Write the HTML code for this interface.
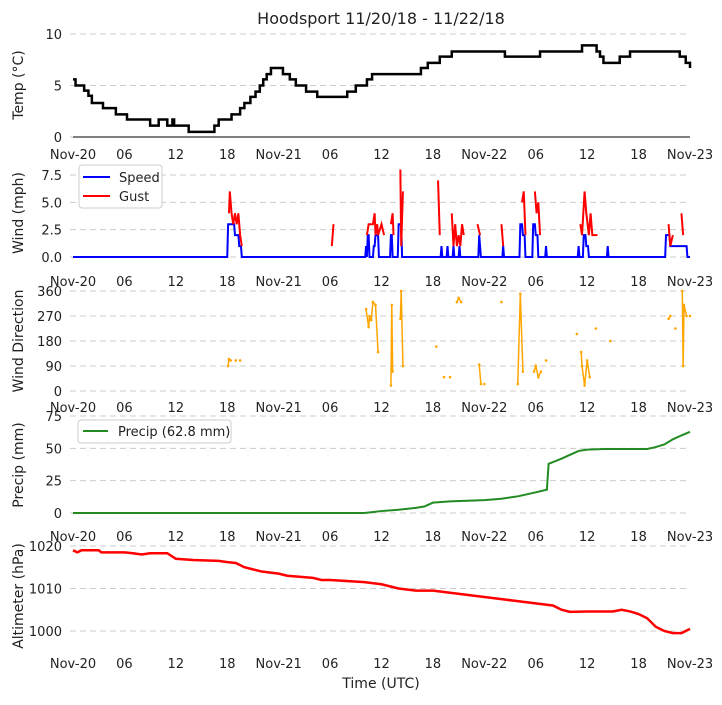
<!DOCTYPE html>
<html><head><meta charset="utf-8"><style>
body{margin:0;background:#fff;font-family:"Liberation Sans",sans-serif}
svg text{font-family:"DejaVu Sans","Liberation Sans",sans-serif;fill:#222}
</style></head><body>
<svg id="c" width="722" height="700"></svg>
<script>
const tickLabels=["Nov-20","06","12","18","Nov-21","06","12","18","Nov-22","06","12","18","Nov-23"];
const tempHours=[0,0.3,1.3,1.8,2.2,3.5,5,6.3,9,10,11,11.6,11.8,13.5,16.5,17,18.5,19.5,20,20.7,21.3,21.8,22.2,22.6,23.1,24.5,25.3,26,27.2,28.5,32,33,34.3,34.9,40.6,41.4,42.8,44.2,50.4,54.5,59.4,61.1,61.5,61.9,63.8,65,70.8,71.5,72];
const tempValues=[5.6,5.0,4.5,4.0,3.3,2.8,2.2,1.7,1.1,1.7,1.1,1.7,1.1,0.5,1.1,1.7,2.2,2.8,3.3,3.9,4.4,5.0,5.6,6.1,6.7,6.1,5.6,5.0,4.4,3.9,4.4,5.0,5.6,6.1,6.7,7.2,7.8,8.3,7.8,8.3,8.9,8.3,7.8,7.2,7.8,8.3,7.8,7.2,6.7];
const speedHours=[0,18,18.1,18.8,18.9,19.3,19.4,19.6,19.7,34.1,34.2,34.3,34.4,34.5,34.6,35,35.1,35.2,35.3,35.6,35.7,37.0,37.1,37.2,37.3,37.9,38.0,38.3,38.4,42.9,43.0,43.1,43.6,43.7,43.8,44.3,44.4,44.5,45.0,45.1,45.2,47.3,47.4,47.5,47.6,50.1,50.2,50.3,52.1,52.2,52.4,52.5,52.7,52.8,53.6,53.7,53.9,54.0,54.2,54.3,55.1,55.2,55.3,58.9,59.0,59.1,59.5,59.6,59.8,59.9,60.1,60.2,62.3,62.4,62.5,69.1,69.2,69.6,69.7,70.3,70.4,71.6,71.7,72];
const speedValues=[0,0,3,3,2,2,1,1,0,0,1,0,2,2,0,0,1,1,2,2,0,0,2,2,0,0,3,3,0,0,1,0,0,1,0,0,1,0,0,1,0,0,2,1,0,0,1,0,0,3,3,2,2,0,0,3,3,2,2,0,0,1,0,0,1,0,0,2,2,1,1,0,0,1,0,0,2,2,1,1,1,1,0,0];
const gustHours=[18.2,18.3,18.5,18.7,18.9,19.1,19.3,19.5,19.7,30.2,30.4,34.3,34.5,34.7,35,35.2,35.3,35.5,35.6,36,36.3,37.1,37.3,37.4,38.2,38.3,38.5,42.6,42.8,43.3,44.2,44.4,44.6,44.8,45,45.2,45.4,45.6,47.2,47.5,48.5,50,50.2,52.4,52.6,52.8,53.9,54.1,54.3,54.5,55,59.2,59.4,59.7,59.9,60.2,60.4,60.6,60.8,61.2,62.4,69.5,69.7,70,71,71.2,71.7];
const gustValues=[4,6,4,3,4,3,4,2,1,1,3,2,3,3,3,4,2,3,2,3,2,3,4,2,8,1,6,7,2,1,4,1,3,1,2,1,3,2,3,2,2,3,1,5,6,2,6,4,5,2,2,3,2,6,4,2,4,2,2,2,2,3,1,2,4,2,2];
const dirHours=[18.1,18.2,18.4,19,19.5,34.2,34.5,34.6,34.8,35,35.3,35.6,37.1,37.2,37.3,38.2,38.3,38.5,42.4,43.3,44,44.8,45,45.3,47.4,47.6,48,50,51.9,52.2,52.5,53.8,54,54.3,54.6,55.2,58.8,59.3,59.4,59.7,60,60.3,61,62.7,69.5,69.7,70.3,71.1,71.2,71.3,71.6,72];
const dirValues=[90,115,110,110,110,295,230,270,255,320,310,140,20,310,70,260,360,90,160,50,50,320,335,320,95,25,25,320,25,350,70,70,90,50,70,110,205,140,90,20,110,50,225,180,260,270,225,360,90,310,270,270];
const precipHours=[0,34,36,38,40,41,42,44,46,48,50,52,54,55.3,55.5,57,58,59,60,62,67,68,69,70,71,72];
const precipValues=[0,0,1.5,2.5,4,5,8,9,9.5,10,11,13,16,18,38,42,45,48,49,49.5,49.5,51,53,57,60,62.8];
const altHours=[0,0.5,1,3,3.3,6,7,8,9,11,12,14,17,18,19,20,21,22,24,25,28,29,30,34,36,38,40,42,44,46,48,50,52,54,56,57,58,60,63,64,65,66,67,68,69,70,71,72];
const altValues=[1019,1018.5,1019,1019,1018.5,1018.5,1018.3,1018,1018.3,1018.3,1017,1016.7,1016.5,1016.2,1016,1015,1014.5,1014,1013.5,1013,1012.5,1012,1012,1011.5,1011,1010,1009.5,1009.5,1009,1008.5,1008,1007.5,1007,1006.5,1006,1005,1004.5,1004.6,1004.6,1005,1004.6,1004,1003,1001,1000,999.5,999.5,1000.5];

const S=document.getElementById('c');const NS='http://www.w3.org/2000/svg';
function mk(t,a,p){const e=document.createElementNS(NS,t);for(const k in a)e.setAttribute(k,a[k]);(p||S).appendChild(e);return e;}
const X=h=>73+h*(617/72);
function lin(v0,y0,v1,y1){return v=>y0+(v-v0)*(y1-y0)/(v1-v0);}
const yT=lin(0,137,10,34),yW=lin(0,257,7.5,175),yD=lin(0,391,360,291),yP=lin(0,513,75,416),yA=lin(1000,631,1020,546);
function grid(vals,labels,yf,tickY,label,ly){
 vals.forEach((v,i)=>{const g=mk('line',{x1:70,x2:690,y1:yf(v),y2:yf(v),stroke:'#ccc','stroke-dasharray':'6,4'});
 
 
 const t=mk('text',{x:62,y:yf(v)+5,'text-anchor':'end','font-size':13});t.textContent=labels[i];
 
 });
 tickLabels.forEach((l,i)=>{const t=mk('text',{x:X(i*6),y:tickY,'text-anchor':'middle','font-size':13});t.textContent=l;
 
 });
 const t=mk('text',{x:0,y:0,'text-anchor':'middle','font-size':14,transform:`translate(23,${ly}) rotate(-90)`});t.textContent=label;
 
 
}
function step(hs,vs,yf){let d=`M${X(hs[0])},${yf(vs[0])}`;for(let i=1;i<hs.length;i++)d+=`H${X(hs[i])}V${yf(vs[i])}`;return d;}
function poly(hs,vs,yf){return hs.map((h,i)=>(i?'L':'M')+X(h)+','+yf(vs[i])).join('');}
function seg(hs,vs,yf,gap){let d='';for(let i=0;i<hs.length;i++){d+=(i&&hs[i]-hs[i-1]<=gap?'L':'M')+X(hs[i])+','+yf(vs[i]);}return d;}

const ti=mk('text',{x:381,y:24,'text-anchor':'middle','font-size':16});ti.textContent='Hoodsport 11/20/18 - 11/22/18';



grid([0,5,10],['0','5','10'],yT,159,'Temp (\u00B0C)',85);
let e=mk('line',{x1:73,x2:690,y1:137,y2:137,stroke:'#000','stroke-width':1});


e=mk('path',{d:step(tempHours,tempValues,yT),fill:'none',stroke:'#000','stroke-width':2.5});



grid([0,2.5,5,7.5],['0.0','2.5','5.0','7.5'],yW,286,'Wind (mph)',213);
e=mk('path',{d:poly(speedHours,speedValues,yW),fill:'none',stroke:'#0000ff','stroke-width':2});


e=mk('path',{d:seg(gustHours,gustValues,yW,0.45),fill:'none',stroke:'#ff0000','stroke-width':2});


let lg=mk('g',{});


mk('rect',{x:79,y:165,width:83,height:43,fill:'#fff',stroke:'#ccc',rx:3},lg);
mk('line',{x1:83,x2:110,y1:177,y2:177,stroke:'#0000ff','stroke-width':2},lg);
mk('line',{x1:83,x2:110,y1:196,y2:196,stroke:'#ff0000','stroke-width':2},lg);
let t=mk('text',{x:119,y:182,'font-size':13},lg);t.textContent='Speed';
t=mk('text',{x:119,y:201,'font-size':13},lg);t.textContent='Gust';

grid([0,90,180,270,360],['0','90','180','270','360'],yD,412,'Wind Direction',341);
e=mk('path',{d:seg(dirHours,dirValues,yD,0.35),fill:'none',stroke:'#ffa500','stroke-width':1.5});


dirHours.forEach((h,i)=>{const c=mk('circle',{cx:X(h),cy:yD(dirValues[i]),r:1.3,fill:'#ffa500'});

});

grid([0,25,50,75],['0','25','50','75'],yP,541,'Precip (mm)',465);
e=mk('path',{d:poly(precipHours,precipValues,yP),fill:'none',stroke:'#228b22','stroke-width':2});


lg=mk('g',{});


mk('rect',{x:78,y:420,width:153,height:23,fill:'#fff',stroke:'#ccc',rx:3},lg);
mk('line',{x1:83,x2:108,y1:431,y2:431,stroke:'#228b22','stroke-width':2},lg);
t=mk('text',{x:118,y:436,'font-size':13},lg);t.textContent='Precip (62.8 mm)';

grid([1000,1010,1020],['1000','1010','1020'],yA,668,'Altimeter (hPa)',596);
e=mk('path',{d:poly(altHours,altValues,yA),fill:'none',stroke:'#ff0000','stroke-width':2.5});


t=mk('text',{x:381,y:688,'text-anchor':'middle','font-size':14});t.textContent='Time (UTC)';


</script>
</body></html>
